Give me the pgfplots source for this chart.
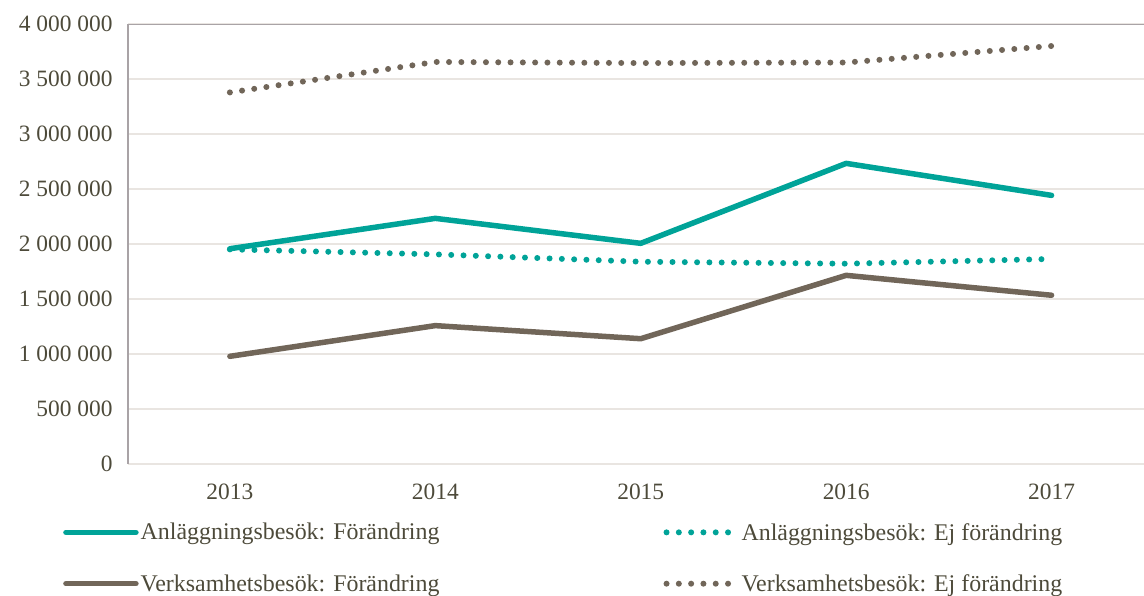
\documentclass[border=0pt]{standalone}
\usepackage{pgfplots}
\pgfplotsset{compat=1.18}
\usepackage{fontspec}
\setmainfont{Liberation Serif}
\definecolor{teal1}{HTML}{00A398}
\definecolor{brown1}{HTML}{716659}
\definecolor{txt}{HTML}{4D4A3A}
\definecolor{gridc}{HTML}{E9E5E1}
\definecolor{axc}{HTML}{A9A3A6}
\begin{document}
\begin{tikzpicture}[x=1bp,y=1bp]
\begin{axis}[
  at={(128bp,132bp)}, anchor=south west,
  scale only axis, width=1016bp, height=440bp,
  xmin=-0.496, xmax=4.45, ymin=0, ymax=4000000,
  axis x line*=bottom, axis y line*=left,
  x axis line style={draw=none},
  y axis line style={draw=axc, line width=1.5bp, -},
  xtick={0,1,2,3,4}, xticklabels={2013,2014,2015,2016,2017},
  ytick={0,500000,1000000,1500000,2000000,2500000,3000000,3500000,4000000},
  yticklabels={0,500 000,1 000 000,1 500 000,2 000 000,2 500 000,3 000 000,3 500 000,4 000 000},
  scaled y ticks=false,
  major tick length=0pt,
  ymajorgrids, grid style={draw=gridc, line width=1.5bp},
  font=\fontsize{24}{28}\selectfont,
  tick label style={text=txt, font=\fontsize{23.5}{27}\selectfont},
  yticklabel style={xshift=-12bp},
  xticklabel style={yshift=-16bp},
  legend columns=2,
  legend cell align=left,
  legend style={draw=none, fill=none, at={(-68bp,-57bp)}, anchor=north west,
    font=\fontsize{24}{28}\selectfont, text=txt,
    /tikz/every even column/.append style={column sep=222bp},
    row sep=33bp, nodes={inner sep=0bp, inner xsep=2bp}},
  legend image code/.code={\draw[#1] (0bp,0bp) -- (70bp,0bp);},
]
\draw[axc, line width=1.5bp] (rel axis cs:0,1) -- (rel axis cs:1,1);
\addplot[teal1, line width=5.5bp, line cap=round, line join=round] coordinates {
 (0,1957000) (1,2233000) (2,2006000) (3,2733000) (4,2442000)};
\addlegendentry{Anläggningsbesök: Förändring}
\addplot[teal1, line width=6bp, line cap=round, dash pattern=on 0bp off 12.3bp] coordinates {
 (0,1951000) (1,1906000) (2,1839000) (3,1821000) (4,1864000)};
\addlegendentry{Anläggningsbesök: Ej förändring}
\addplot[brown1, line width=5.5bp, line cap=round, line join=round] coordinates {
 (0,979000) (1,1258000) (2,1139000) (3,1715000) (4,1534000)};
\addlegendentry{Verksamhetsbesök: Förändring}
\addplot[brown1, line width=6bp, line cap=round, dash pattern=on 0bp off 12.3bp] coordinates {
 (0,3378000) (1,3655000) (2,3645000) (3,3650000) (4,3800000)};
\addlegendentry{Verksamhetsbesök: Ej förändring}
\end{axis}
\pgfresetboundingbox
\path (0bp,0bp) rectangle (1144bp,596bp);
\end{tikzpicture}
\end{document}
